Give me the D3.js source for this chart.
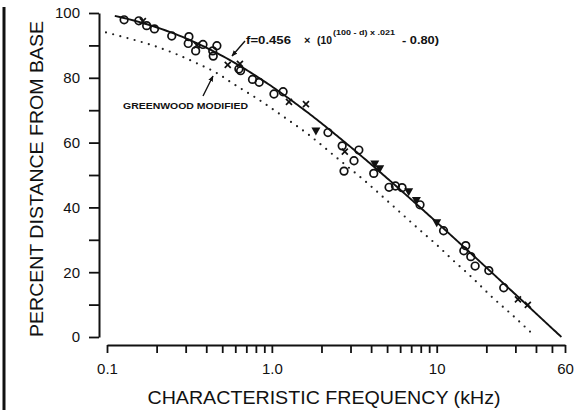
<!DOCTYPE html>
<html>
<head>
<meta charset="utf-8">
<script src="https://cdn.jsdelivr.net/npm/d3@7"></script>
<style>
  html, body { margin: 0; padding: 0; background: #fff; }
  svg { display: block; }
  text { font-family: "Liberation Sans", Arial, sans-serif; fill: #111; }
</style>
</head>
<body>
<svg id="chart" width="587" height="410"></svg>
<script>
// Measured places along the cochlea: characteristic frequency (kHz) and percent distance from base
const circleFreq = [0.127, 0.156, 0.174, 0.194, 0.247, 0.314, 0.311, 0.345, 0.382, 0.438, 0.464, 0.441,
                    0.631, 0.646, 0.763, 0.838, 1.03, 1.17, 2.19, 2.67, 3.37, 3.15, 2.74, 4.15,
                    5.14, 5.62, 6.16, 7.92, 11.0, 15.0, 14.6, 16.1, 17.1, 20.7, 25.5];
const circleDist = [97.9, 97.6, 96.1, 95.1, 92.9, 92.7, 90.6, 88.3, 90.3, 88.3, 89.9, 86.7,
                    82.7, 82.2, 79.5, 78.6, 75.0, 75.7, 63.1, 59.0, 57.7, 54.4, 51.2, 50.5,
                    46.2, 46.6, 46.1, 40.8, 32.8, 28.2, 26.6, 24.8, 21.9, 20.5, 15.2];

const crossFreq = [0.165, 0.351, 0.540, 0.640, 1.27, 1.61, 2.77, 31.1, 35.7];
const crossDist = [97.5, 90.1, 84.0, 84.3, 72.6, 71.9, 57.2, 11.6, 9.9];

const triangleFreq = [1.85, 4.21, 4.51, 6.76, 7.53, 10.0];
const triangleDist = [63.6, 53.4, 51.9, 44.8, 42.1, 35.3];

// Greenwood (modified) map, dotted
const greenwoodFreq = [0.0986, 0.1346, 0.1866, 0.2547, 0.350, 0.473, 0.581, 0.807, 1.117, 1.675,
                       2.49, 3.66, 5.36, 8.19, 9.87, 12.85, 15.35, 21.9, 28.4, 39.3];
const greenwoodDist = [94.0, 92.2, 90.1, 87.6, 84.5, 81.2, 78.2, 73.7, 68.8, 62.4,
                       55.2, 48.2, 40.7, 32.3, 28.7, 23.2, 19.7, 12.1, 7.0, 0.3];

// Fitted map: f = 0.456 x (10^((100-d) x .021) - 0.80)
const fitA = 0.456, fitSlope = 0.021, fitK = 0.80;
const fitDistStart = 99.1, fitDistEnd = 0;

// Axis ticks and labels
const xTickValues = [0.1, 0.2, 0.3, 0.4, 0.5, 0.6, 0.7, 0.8, 0.9,
                     1, 2, 3, 4, 5, 6, 7, 8, 9, 10, 20, 30, 40, 50, 60];
const xTickLabels = {0.1: "0.1", 1: "1.0", 10: "10", 60: "60"};
const yTickValues = [0, 10, 20, 30, 40, 50, 60, 70, 80, 90, 100];
const yTickLabels = [0, 20, 40, 60, 80, 100];

const svg = d3.select("#chart");

const x = d3.scaleLog().domain([0.1, 60]).range([107, 565]);
const y = d3.scaleLinear().domain([0, 100]).range([337, 13]);

// frame line on the left edge
svg.append("line").attr("x1", 4).attr("x2", 4).attr("y1", 7).attr("y2", 410)
  .attr("stroke", "#111").attr("stroke-width", 3);

// axes
const xAxis = d3.axisBottom(x)
  .tickValues(xTickValues)
  .tickFormat(v => xTickLabels[v] !== undefined ? xTickLabels[v] : "")
  .tickSize(8).tickSizeOuter(0).tickPadding(10);
const gx = svg.append("g").attr("transform", "translate(0,345)").call(xAxis);

const yAxis = d3.axisLeft(y)
  .tickValues(yTickValues)
  .tickFormat(v => yTickLabels.includes(v) ? String(v) : "")
  .tickSize(10).tickSizeOuter(0).tickPadding(9);
const gy = svg.append("g").attr("transform", "translate(99,0)").call(yAxis);

[gx, gy].forEach(g => {
  g.selectAll("path.domain").attr("stroke", "#111").attr("stroke-width", 2);
  g.selectAll(".tick line").attr("stroke", "#111").attr("stroke-width", 1.8);
  g.selectAll(".tick text").attr("font-size", 15).attr("fill", "#111")
    .attr("font-family", "'Liberation Sans',Arial,sans-serif");
});

// axis titles
svg.append("text")
  .attr("transform", "translate(43,179) rotate(-90)")
  .attr("text-anchor", "middle")
  .attr("font-size", 19)
  .attr("textLength", 316).attr("lengthAdjust", "spacingAndGlyphs")
  .text("PERCENT DISTANCE FROM BASE");

svg.append("text")
  .attr("x", 324).attr("y", 404)
  .attr("text-anchor", "middle")
  .attr("font-size", 18)
  .attr("textLength", 353).attr("lengthAdjust", "spacingAndGlyphs")
  .text("CHARACTERISTIC FREQUENCY (kHz)");

// dotted Greenwood curve
const greenwoodPts = greenwoodFreq.map((f, i) => [x(f), y(greenwoodDist[i])]);
svg.append("path")
  .attr("d", d3.line().curve(d3.curveMonotoneX)(greenwoodPts))
  .attr("fill", "none").attr("stroke", "#222")
  .attr("stroke-width", 2.2).attr("stroke-linecap", "round")
  .attr("stroke-dasharray", "0 7.4");

// solid fitted curve
const fitPts = d3.range(fitDistStart, fitDistEnd - 0.001, -0.5).concat([fitDistEnd])
  .map(d => [x(fitA * (Math.pow(10, (100 - d) * fitSlope) - fitK)), y(d)]);
svg.append("path")
  .attr("d", d3.line()(fitPts))
  .attr("fill", "none").attr("stroke", "#111").attr("stroke-width", 1.9);

// markers
svg.append("g").selectAll("circle")
  .data(circleFreq.map((f, i) => [f, circleDist[i]]))
  .join("circle")
  .attr("cx", d => x(d[0])).attr("cy", d => y(d[1])).attr("r", 3.8)
  .attr("fill", "none").attr("stroke", "#111").attr("stroke-width", 1.7);

svg.append("g").selectAll("path")
  .data(crossFreq.map((f, i) => [f, crossDist[i]]))
  .join("path")
  .attr("transform", d => `translate(${x(d[0])},${y(d[1])})`)
  .attr("d", "M-3,-3L3,3M-3,3L3,-3")
  .attr("stroke", "#111").attr("stroke-width", 1.7);

svg.append("g").selectAll("path")
  .data(triangleFreq.map((f, i) => [f, triangleDist[i]]))
  .join("path")
  .attr("transform", d => `translate(${x(d[0])},${y(d[1])})`)
  .attr("d", "M-4.5,-3.5L4.5,-3.5L0,4.5Z")
  .attr("fill", "#111");

// arrowheads for the annotations
const defs = svg.append("defs");
defs.append("marker").attr("id", "arrow")
  .attr("viewBox", "0 0 10 10").attr("refX", 9).attr("refY", 5)
  .attr("markerWidth", 6).attr("markerHeight", 6)
  .attr("markerUnits", "userSpaceOnUse")
  .attr("orient", "auto")
  .append("path").attr("d", "M0,1L10,5L0,9Z").attr("fill", "#111");

// formula annotation
svg.append("line").attr("x1", 245).attr("y1", 41).attr("x2", 232).attr("y2", 56)
  .attr("stroke", "#111").attr("stroke-width", 1.4).attr("marker-end", "url(#arrow)");
const ann = svg.append("g").attr("font-weight", "bold");
ann.append("text").attr("x", 246).attr("y", 44).attr("font-size", 10.5)
  .attr("textLength", 45).attr("lengthAdjust", "spacingAndGlyphs").text("f=0.456");
ann.append("text").attr("x", 304).attr("y", 44).attr("font-size", 11).text("×");
ann.append("text").attr("x", 317).attr("y", 44).attr("font-size", 10.5)
  .attr("textLength", 15).attr("lengthAdjust", "spacingAndGlyphs").text("(10");
ann.append("text").attr("x", 333).attr("y", 35).attr("font-size", 7.5)
  .attr("textLength", 62).attr("lengthAdjust", "spacingAndGlyphs").text("(100 - d) x .021");
ann.append("text").attr("x", 402).attr("y", 44).attr("font-size", 10.5)
  .attr("textLength", 37).attr("lengthAdjust", "spacingAndGlyphs").text("- 0.80)");

// Greenwood label
svg.append("line").attr("x1", 203).attr("y1", 96).attr("x2", 213).attr("y2", 76)
  .attr("stroke", "#111").attr("stroke-width", 1.4).attr("marker-end", "url(#arrow)");
svg.append("text").attr("x", 123).attr("y", 109).attr("font-size", 9.5).attr("font-weight", "bold")
  .attr("textLength", 125).attr("lengthAdjust", "spacingAndGlyphs")
  .text("GREENWOOD MODIFIED");
</script>
</body>
</html>
